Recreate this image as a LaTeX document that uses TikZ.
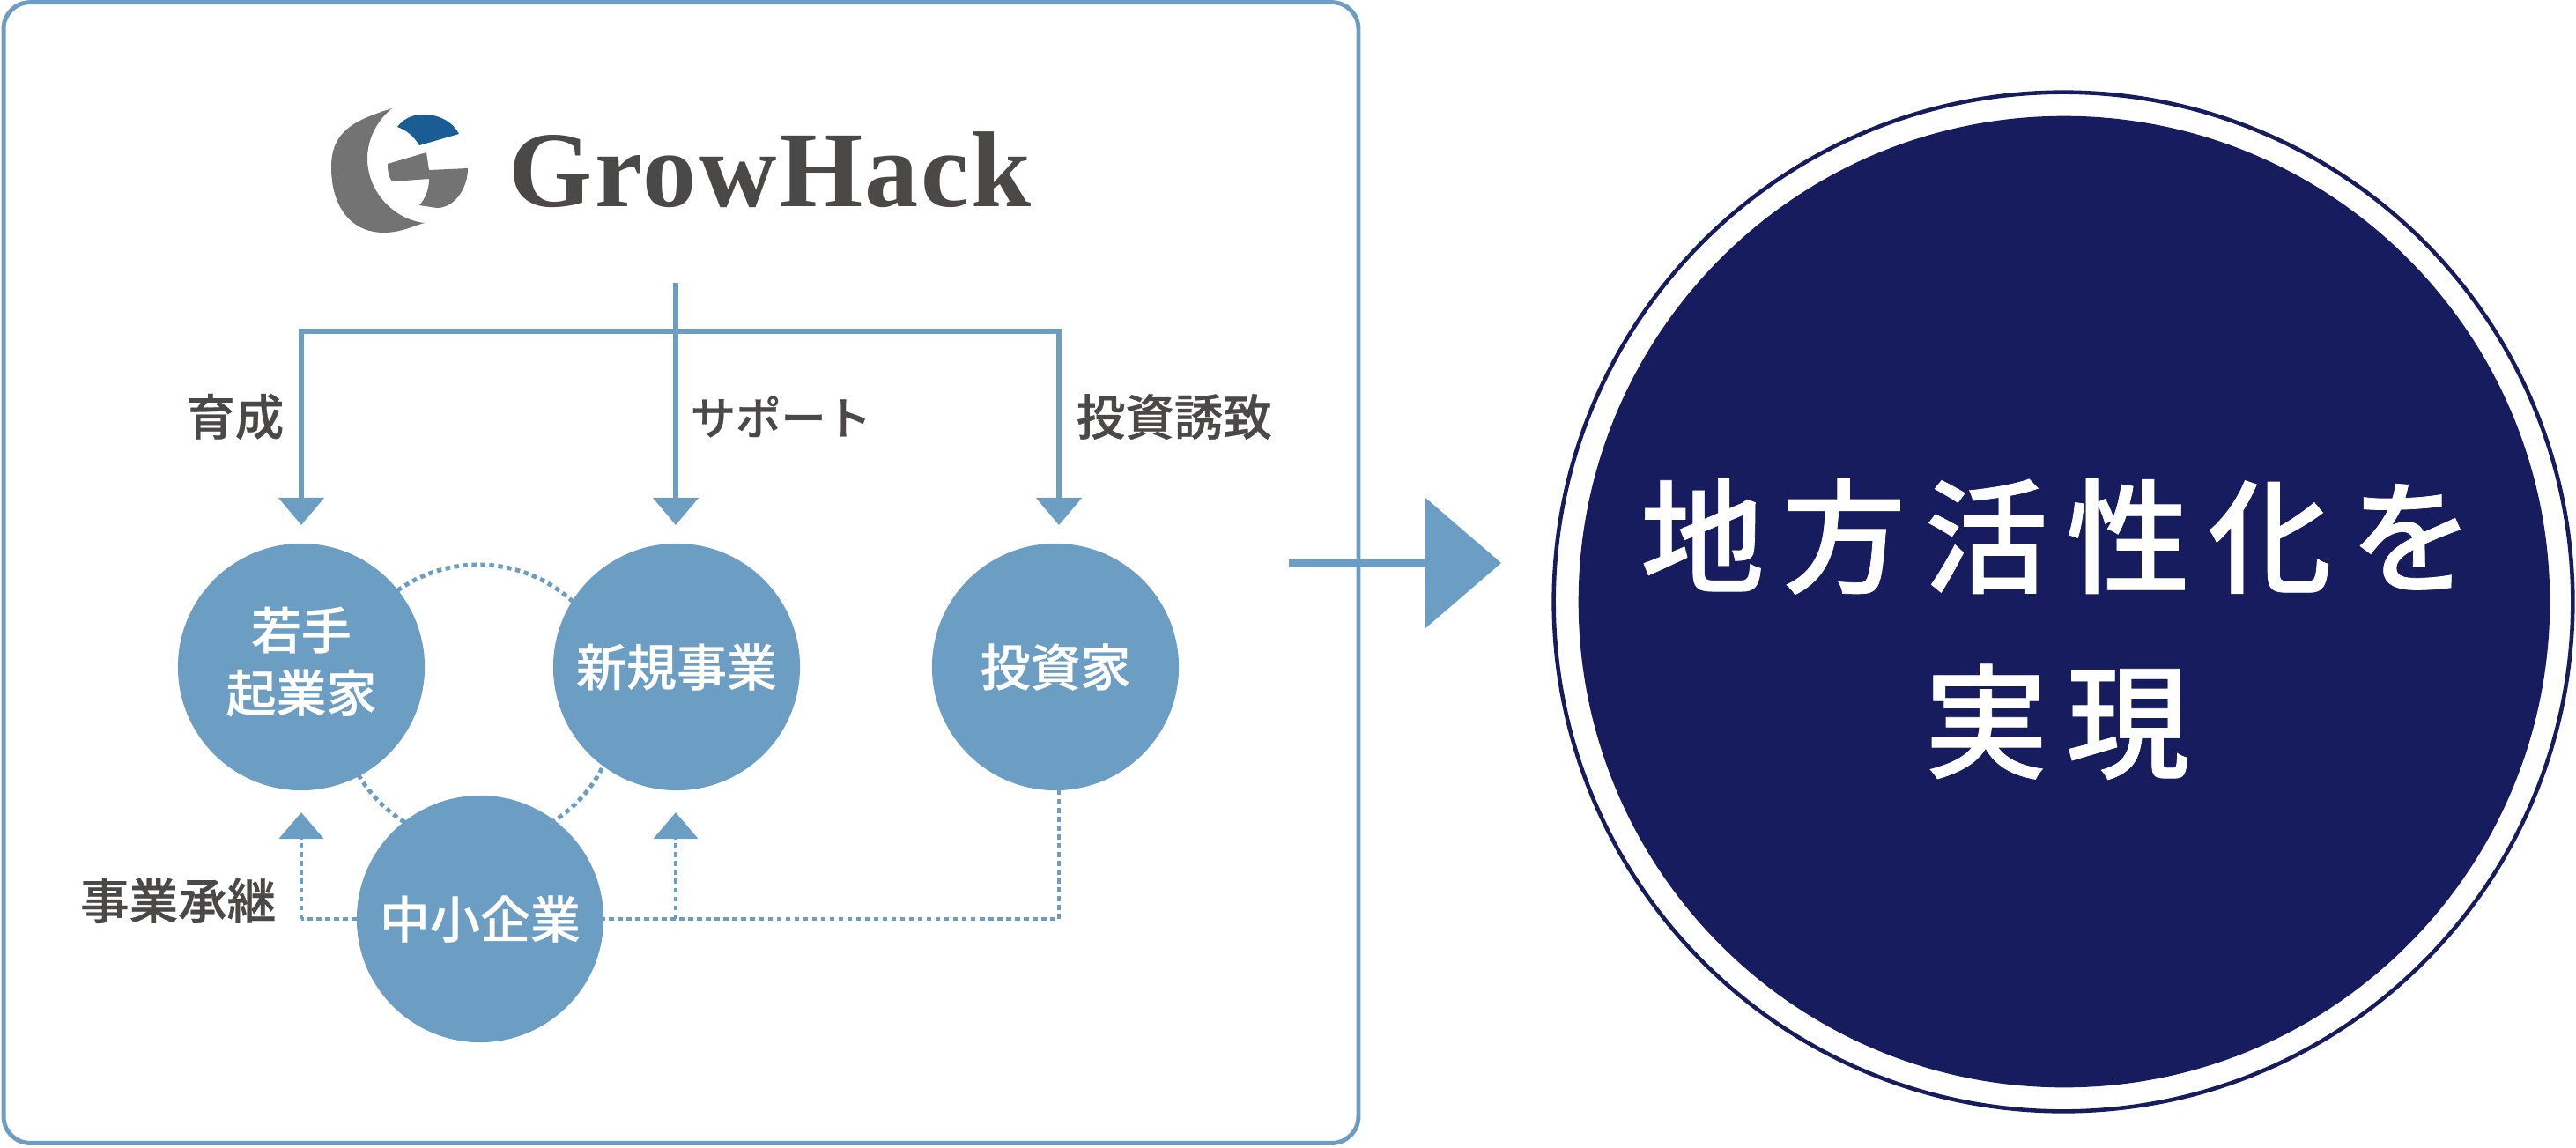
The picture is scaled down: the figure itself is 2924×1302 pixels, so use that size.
\documentclass[tikz,border=0pt]{standalone}
\usepackage{fontspec}
\usepackage{xcolor}
\usetikzlibrary{arrows.meta,positioning}
\newfontfamily\jpfont{Noto Sans CJK JP Medium}[FakeBold=0.5]
\newfontfamily\jpbig{Noto Sans CJK JP Medium}[LetterSpace=14.5,FakeBold=0.5]
\newfontfamily\logofont{Liberation Serif Bold}[LetterSpace=2]
\definecolor{hackblue}{HTML}{6C9DC2}
\definecolor{goalnavy}{HTML}{171C5E}
\definecolor{logoblue}{HTML}{1A5C94}
\definecolor{logogray}{HTML}{737373}
\definecolor{labelgray}{HTML}{4B4948}
\tikzset{
  actortext/.style={text=white, inner sep=0pt, align=center, font=\jpfont\fontsize{16.2pt}{20.2pt}\selectfont},
  actor/.style={actortext, circle, fill=hackblue, minimum size=2.8cm, outer sep=0pt},
  tag/.style={text=labelgray, inner sep=0pt, font=\jpfont\fontsize{15.8pt}{18pt}\selectfont},
  feed/.style={draw=hackblue, line width=1.5pt},
  feedtip/.style={feed, -{Triangle[length=0.31cm,width=0.51cm]}, shorten >=0.21cm},
  dots/.style={draw=hackblue, line width=1.4pt, dash pattern=on 1.55pt off 1.3pt},
  dotstip/.style={dots, -{Triangle[length=0.3cm,width=0.5cm]}, shorten >=0.25cm}
}
\begin{document}
\begin{tikzpicture}[x=0.01cm,y=-0.01cm]
  \useasboundingbox (0,0) rectangle (2924,1302);

  % Frame
  \node[draw=hackblue, line width=1.4pt, rounded corners=0.3cm, minimum width=15.37cm, minimum height=12.94cm,
    inner sep=0pt, outer sep=0pt] (frame) at (773,650) {};

  % Logo
  \fill[logogray] (445,123) .. controls (400,137) and (376,150) .. (376,190)
    .. controls (376,230) and (395,264) .. (436,264)
    .. controls (455,264) and (470,256) .. (482,253)
    .. controls (450,250) and (417,220) .. (417,180)
    .. controls (417,155) and (430,135) .. (445,123) -- cycle;
  \fill[logoblue] (451,144) .. controls (462,130) and (475,130) .. (482,130)
    .. controls (500,130) and (515,140) .. (521,152)
    -- (476,165) .. controls (470,155) and (462,148) .. (451,144) -- cycle;
  \fill[logogray] (440,186) -- (484,173) -- (487,193) -- (531,191)
    .. controls (531,215) and (515,236) .. (496,236)
    -- (476,233) .. controls (483,225) and (487,215) .. (487,203)
    -- (445,206) .. controls (441,200) and (440,195) .. (440,186) -- cycle;
  \node[text=labelgray, inner sep=0pt, anchor=base west, font=\logofont\fontsize{34.8pt}{40pt}\selectfont] (brand) at (577,234) {GrowHack};

  % Ring behind the circles
  \node[circle, dots, minimum size=3.16cm, inner sep=0pt, outer sep=0pt] (ring) at (543,799) {};

  % Circles
  \node[actor] (wakate) at (342,757) {};
  \node[actortext] (wakatetext) at (342,751) {若手\\起業家};
  \node[actor] (shinki) at (768,757) {新規事業};
  \node[actor] (toshi) at (1198,757) {投資家};
  \node[actor] (chusho) at (545,1043) {中小企業};

  % Support lines
  \coordinate (hub) at (767,321);
  \coordinate (bus) at (767,376);
  \coordinate (toshitop) at (1202,617);
  \draw[feedtip] (hub) -- (shinki.north -| hub);
  \draw[feedtip] (bus) -| (wakate.north);
  \draw[feedtip] (bus) -| (toshitop);
  \node[tag, anchor=east] (ikusei) at (323,473) {育成};
  \node[tag, anchor=west, font=\jpfont\fontsize{14.6pt}{18pt}\selectfont] (support) at (783,473) {サポート};
  \node[tag, anchor=west] (yuchi) at (1221,473) {投資誘致};

  % Dotted return lines
  \coordinate (joinl) at (342,1043);
  \coordinate (joinm) at (767,1043);
  \coordinate (joinr) at (1202,1043);
  \coordinate (toshibot) at (1202,897);
  \draw[dots] (chusho.west) -- (joinl);
  \draw[dotstip] (joinl) -- (wakate.south);
  \draw[dots] (toshibot) -- (joinr) -- (chusho.east);
  \draw[dotstip] (joinm) -- (shinki.south -| joinm);
  \node[tag, anchor=east] (shokei) at (314,1022) {事業承継};

  % Result
  \coordinate (outstart) at (1463,639);
  \coordinate (outtip) at (1704,639);
  \draw[hackblue, line width=2.7pt, -{Triangle[length=0.86cm,width=1.46cm]}] (outstart) -- (outtip);
  \node[circle, draw=goalnavy, line width=1.3pt, minimum size=11.56cm, inner sep=0pt, outer sep=0pt] (goalring) at (2342,683) {};
  \node[circle, fill=goalnavy, minimum size=11.02cm, inner sep=0pt, outer sep=0pt] (goal) at (2343,683) {};
  \node[text=white, inner sep=0pt, align=center, font=\jpbig\fontsize{40pt}{59.7pt}\selectfont] (goaltext) at (2335,714) {地方活性化を\\実現};
\end{tikzpicture}
\end{document}
